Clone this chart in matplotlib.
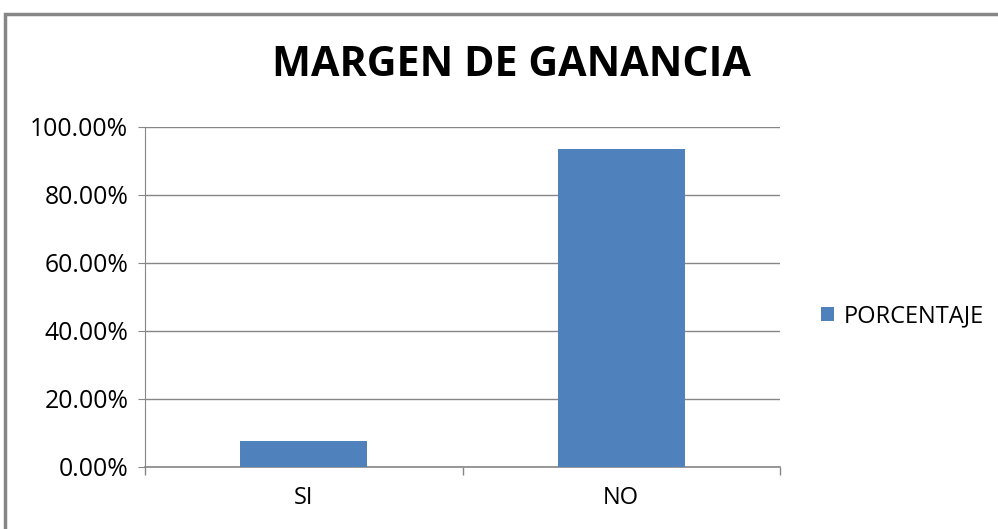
import matplotlib
matplotlib.use("Agg")
import matplotlib.pyplot as plt
from matplotlib.patches import Rectangle
from matplotlib.ticker import FuncFormatter

categories = ["SI", "NO"]
values = [0.076, 0.936]
series_name = "PORCENTAJE"
title = "MARGEN DE GANANCIA"
yticks = [0.0, 0.2, 0.4, 0.6, 0.8, 1.0]

plt.rcParams['font.family'] = ['Open Sans', 'DejaVu Sans']

fig = plt.figure(figsize=(9.98, 5.29), dpi=100)
ax = fig.add_axes([145/998, 1-467/529, 635/998, 340/529])

x = list(range(len(categories)))
ax.bar(x, values, width=0.4, color="#4F81BD", zorder=3, label=series_name)
ax.set_xlim(-0.5, len(categories)-0.5)
ax.set_ylim(0, 1.0)
ax.set_yticks(yticks)
ax.yaxis.set_major_formatter(FuncFormatter(lambda v, p: f"{v*100:.2f}%"))
ax.set_xticks(x)
ax.set_xticklabels(categories)
ax.set_xticks([-0.5, 0.5, 1.5], minor=True)
ax.tick_params(axis='x', which='major', length=0, labelsize=17, pad=14)
ax.tick_params(axis='x', which='minor', length=6, color="#868686", width=1)
ax.tick_params(axis='y', length=5, color="#868686", labelsize=17.8, pad=7)
ax.grid(axis='y', color="#868686", linewidth=1, zorder=0)
for s in ['top', 'right']:
    ax.spines[s].set_visible(False)
ax.spines['left'].set_color("#868686")
ax.spines['bottom'].set_color("#868686")
ax.spines['bottom'].set_linewidth(1.2)

fig.text(511/998, 1-66/529, title, ha='center', va='center', fontsize=29.7,
         fontweight='bold')

leg = fig.legend(handles=ax.patches[:1], labels=[series_name], loc='center left',
                 bbox_to_anchor=(800/998, 1-316/529), frameon=False, fontsize=17,
                 handlelength=0.55, handleheight=0.55, handletextpad=0.4)

border = Rectangle((5/998, -0.1), 1.1, 1 - 14/529 + 0.1, transform=fig.transFigure,
                   fill=False, edgecolor="#868686", linewidth=2.5, clip_on=False)
fig.patches.append(border)

fig.savefig("out.png", dpi=100)
